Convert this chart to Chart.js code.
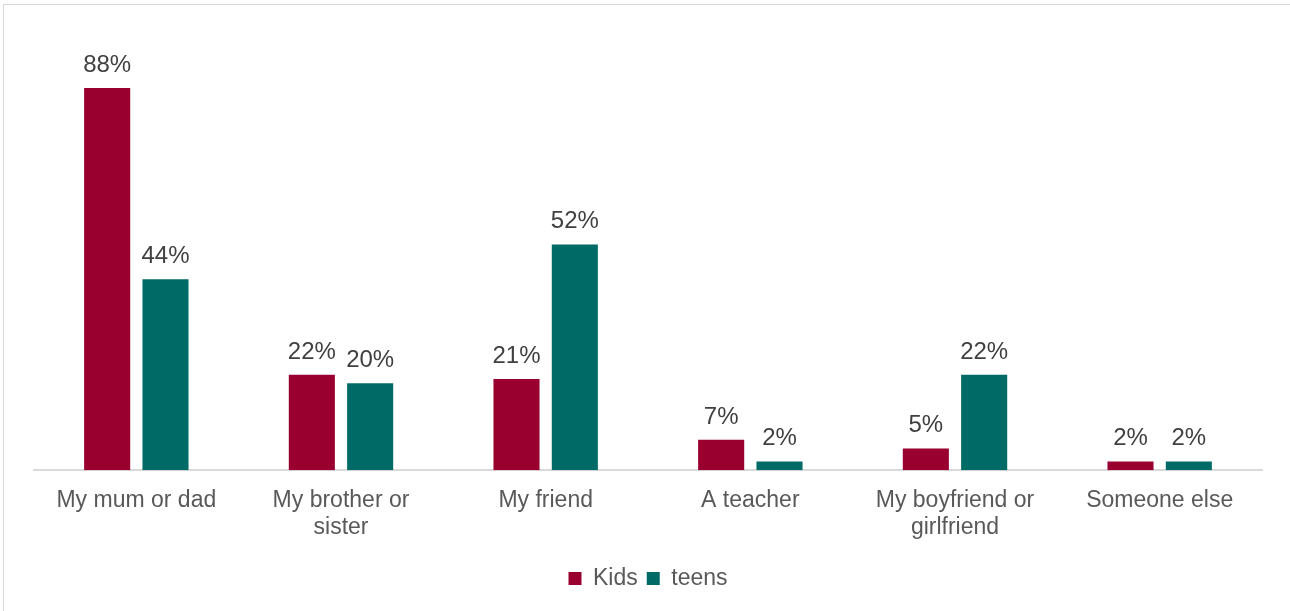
<!DOCTYPE html>
<html>
<head>
<meta charset="utf-8">
<script src="https://cdn.jsdelivr.net/npm/chart.js@4/dist/chart.umd.min.js"></script>
<style>
	body { margin: 0; background: #fff; }
	.frame { position: absolute; left: 3px; top: 4px; width: 1286px; height: 606px; border: 1px solid #d9d9d9; border-bottom: none; }
</style>
</head>
<body>
<div class="frame">
	<canvas id="chart" width="1286" height="606"></canvas>
</div>
<script>
var categories = [
	'My mum or dad',
	['My brother or', 'sister'],
	'My friend',
	'A teacher',
	['My boyfriend or', 'girlfriend'],
	'Someone else'
];
var kids = [88, 22, 21, 7, 5, 2];
var teens = [44, 20, 52, 2, 22, 2];

// draws the % labels above each bar
var barLabels = {
	id: 'barLabels',
	afterDatasetsDraw: function(chart) {
		var ctx = chart.ctx;
		ctx.save();
		ctx.font = '24px "Liberation Sans", Arial, sans-serif';
		ctx.fillStyle = '#404040';
		ctx.textAlign = 'center';
		ctx.textBaseline = 'alphabetic';
		chart.data.datasets.forEach(function(ds, i) {
			chart.getDatasetMeta(i).data.forEach(function(bar, j) {
				ctx.fillText(ds.data[j] + '%', bar.x, bar.y - 16);
			});
		});
		ctx.restore();
	}
};

var ctx = document.getElementById('chart').getContext('2d');
var myChart = new Chart(ctx, {
	type: 'bar',
	data: {
		labels: categories,
		datasets: [
			{ label: 'Kids', data: kids, backgroundColor: '#99002f' },
			{ label: 'teens', data: teens, backgroundColor: '#006b66' }
		]
	},
	options: {
		responsive: false,
		animation: false,
		layout: { padding: { left: 30, right: 28, top: 31, bottom: 11 } },
		datasets: {
			bar: { categoryPercentage: 0.57, barPercentage: 0.79 }
		},
		scales: {
			x: {
				grid: { display: false, drawTicks: false },
				border: { color: '#d9d9d9', width: 2 },
				ticks: {
					color: '#595959',
					padding: 17,
					font: { family: '"Liberation Sans", Arial, sans-serif', size: 23, lineHeight: 1.17 }
				}
			},
			y: {
				display: false,
				min: 0,
				max: 100
			}
		},
		plugins: {
			legend: {
				position: 'bottom',
				labels: {
					boxWidth: 13,
					boxHeight: 13,
					padding: 9,
					color: '#595959',
					font: { family: '"Liberation Sans", Arial, sans-serif', size: 23 }
				}
			},
			tooltip: { enabled: false }
		}
	},
	plugins: [barLabels]
});
</script>
</body>
</html>
